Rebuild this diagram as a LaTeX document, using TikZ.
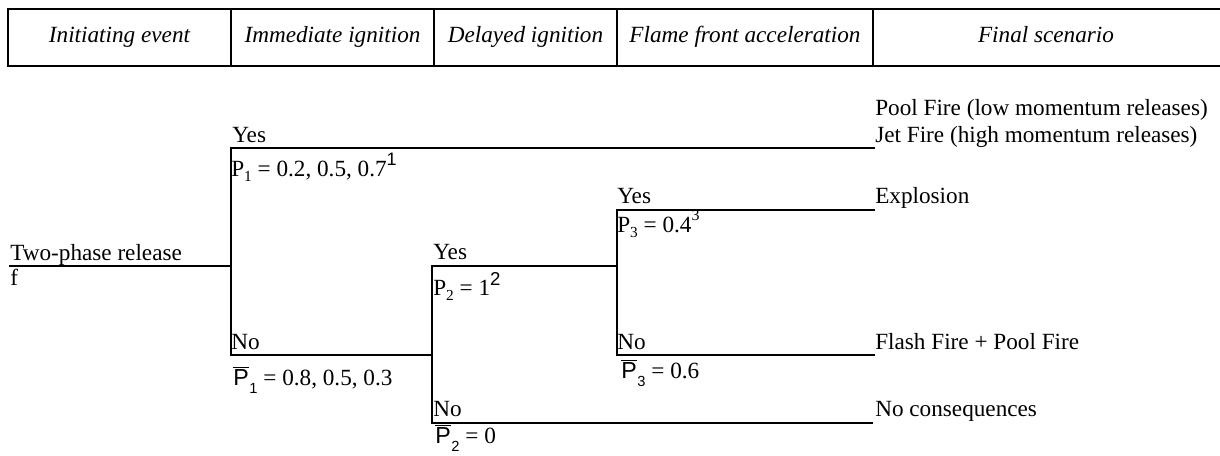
\documentclass[tikz,border=0pt]{standalone}
\usepackage{fontspec}
\setmainfont{Liberation Serif}
\setsansfont{Liberation Sans}
\newcommand{\pbarx}[1]{{\sffamily$\overline{\mbox{\sffamily P}}$\kern0.5pt\raisebox{-0.35em}{\fontsize{11}{11}\selectfont #1}}}
\newcommand{\psub}[1]{P\raisebox{-0.25em}{\fontsize{11.5}{12}\selectfont #1}}
\begin{document}
\begin{tikzpicture}[x=0.75pt,y=-0.75pt,
  lbl/.style={inner sep=0pt, anchor=base west, font=\fontsize{17.4}{20}\selectfont},
  hdr/.style={inner sep=0pt, anchor=base, font=\fontsize{17.4}{20}\selectfont\itshape},
  branch/.style={line width=1.1pt},
  frame/.style={line width=1.5pt}]
\useasboundingbox (0,0) rectangle (1220,455);
% header table
\draw[frame] (8,9) rectangle (1240,66);
\foreach \x in {231,434,617,873} \draw[frame] (\x,9) -- (\x,66);
\node[hdr] (h1) at (119.5,42) {Initiating event};
\node[hdr] (h2) at (332.5,42) {Immediate ignition};
\node[hdr] (h3) at (525.5,42) {Delayed ignition};
\node[hdr] (h4) at (745,42) {Flame front acceleration};
\node[hdr] (h5) at (1046,42) {Final scenario};
% tree coordinates
\coordinate (s) at (9,266);
\coordinate (a) at (231,266);
\coordinate (a1) at (231,148);
\coordinate (a2) at (231,355);
\coordinate (e1) at (875,148);
\coordinate (b) at (432,355);
\coordinate (b1) at (432,266);
\coordinate (b2) at (432,423);
\coordinate (c) at (617,266);
\coordinate (c1) at (617,210);
\coordinate (c2) at (617,355);
\coordinate (e2) at (875,210);
\coordinate (e3) at (875,355);
\coordinate (e4) at (873,423);
\draw[branch] (s) -- (a);
\draw[branch] (e1) -- (a1) -- (a2) -- (b);
\draw[branch] (c) -- (b1) -- (b2) -- (e4);
\draw[branch] (e2) -- (c1) -- (c2) -- (e3);
% labels
\node[lbl] (tp) at (10,260) {Two-phase release};
\node[lbl] (f) at (10,285) {f};
\node[lbl] (y1) at (232,142) {Yes};
\node[lbl] (p1) at (231,176) {\psub{1} = 0.2, 0.5, 0.7\raisebox{0.45em}{\sffamily\fontsize{13.5}{14}\selectfont 1}};
\node[lbl] (n1) at (231,349) {No};
\node[lbl] (q1) at (233,385) {\pbarx{1} = 0.8, 0.5, 0.3};
\node[lbl] (y2) at (433,259) {Yes};
\node[lbl] (p2) at (433,295) {\psub{2} = 1\raisebox{0.4em}{\sffamily\fontsize{14}{14}\selectfont 2}};
\node[lbl] (n2) at (433,416) {No};
\node[lbl] (q2) at (435,443) {\pbarx{2} = 0};
\node[lbl] (y3) at (617,203) {Yes};
\node[lbl] (p3) at (617,232) {\psub{3} = 0.4\raisebox{0.5em}{\fontsize{12}{12}\selectfont 3}};
\node[lbl] (n3) at (617,349) {No};
\node[lbl] (q3) at (621,378) {\pbarx{3} = 0.6};
\node[lbl] (o1) at (875,115) {Pool Fire (low momentum releases)};
\node[lbl] (o2) at (875,142) {Jet Fire (high momentum releases)};
\node[lbl] (o3) at (875,203) {Explosion};
\node[lbl] (o4) at (875,349) {Flash Fire + Pool Fire};
\node[lbl] (o5) at (875,416) {No consequences};
\end{tikzpicture}
\end{document}
